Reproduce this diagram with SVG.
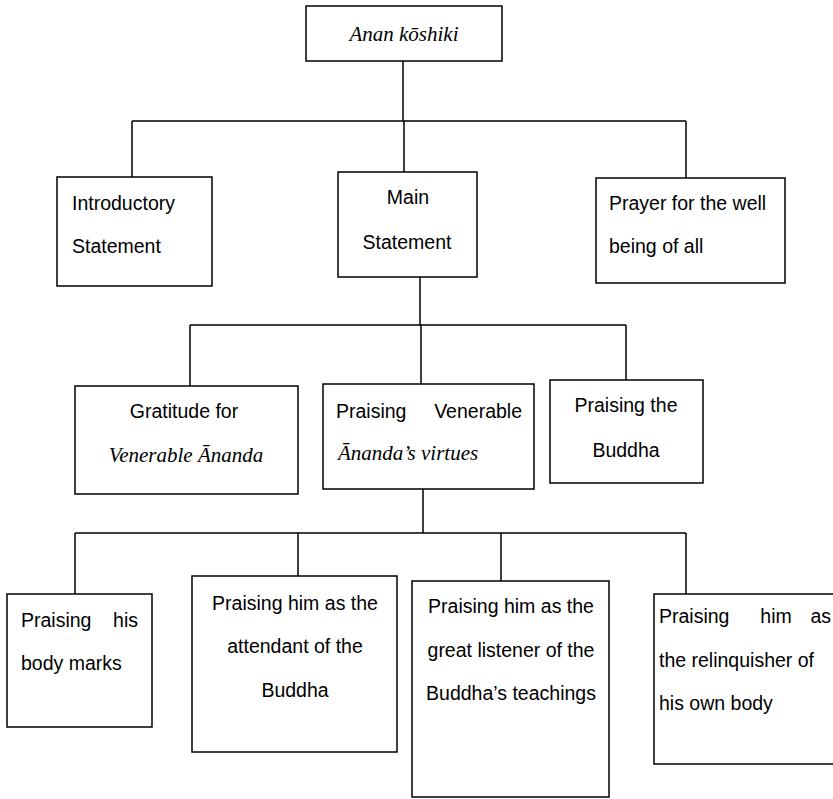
<svg xmlns="http://www.w3.org/2000/svg" width="833" height="799" viewBox="0 0 833 799">
<style>
.box{fill:#fff;stroke:#000;stroke-width:1.5}
.ln{fill:none;stroke:#000;stroke-width:1.5}
.t{font-family:"Liberation Sans",Arial,sans-serif;font-size:19.5px;fill:#000}
.i{font-family:"Liberation Serif","Times New Roman",serif;font-style:italic;font-size:21px;fill:#000}
.m{text-anchor:middle}
.e{text-anchor:end}
</style>
<rect width="833" height="799" fill="#fff"/>
<g id="connectors">
<path class="ln" d="M403 61V121M132 121H686M132 121V177M404 121V172M686 121V178"/>
<path class="ln" d="M420 277V325M190 325H626M190 325V386M421 325V384M626 325V380"/>
<path class="ln" d="M423 489V533M75 533H686M75 533V594M298 533V576M501 533V581M686 533V594"/>
</g>
<g id="root">
<rect class="box" x="306" y="6" width="196" height="55"/>
<text class="i m" x="404" y="41" font-size="22">Anan kōshiki</text>
</g>
<g id="intro">
<rect class="box" x="57" y="177" width="155" height="109"/>
<text class="t" x="72" y="210">Introductory</text>
<text class="t" x="72" y="253">Statement</text>
</g>
<g id="main">
<rect class="box" x="338" y="172" width="139" height="105"/>
<text class="t m" x="408" y="204">Main</text>
<text class="t m" x="407" y="249">Statement</text>
</g>
<g id="prayer">
<rect class="box" x="596" y="178" width="189" height="105"/>
<text class="t" x="609" y="210">Prayer for the well</text>
<text class="t" x="609" y="253">being of all</text>
</g>
<g id="gratitude">
<rect class="box" x="75" y="386" width="223" height="108"/>
<text class="t m" x="184" y="418">Gratitude for</text>
<text class="i m" x="186" y="462">Venerable Ānanda</text>
</g>
<g id="praising-venerable">
<rect class="box" x="323" y="384" width="211" height="105"/>
<text class="t" x="336" y="418">Praising</text>
<text class="t e" x="522" y="418">Venerable</text>
<text class="i" x="338" y="460">Ānanda’s virtues</text>
</g>
<g id="praising-buddha">
<rect class="box" x="550" y="380" width="153" height="103"/>
<text class="t m" x="626" y="412">Praising the</text>
<text class="t m" x="626" y="457">Buddha</text>
</g>
<g id="body-marks">
<rect class="box" x="7" y="594" width="145" height="133"/>
<text class="t" x="21" y="627">Praising</text>
<text class="t e" x="138" y="627">his</text>
<text class="t" x="21" y="670">body marks</text>
</g>
<g id="attendant">
<rect class="box" x="192" y="576" width="205" height="176"/>
<text class="t m" x="295" y="610">Praising him as the</text>
<text class="t m" x="295" y="653">attendant of the</text>
<text class="t m" x="295" y="697">Buddha</text>
</g>
<g id="listener">
<rect class="box" x="412" y="581" width="197" height="216"/>
<text class="t m" x="511" y="613">Praising him as the</text>
<text class="t m" x="511" y="657">great listener of the</text>
<text class="t m" x="511" y="700">Buddha’s teachings</text>
</g>
<g id="relinquisher">
<rect class="box" x="654" y="594" width="190" height="170"/>
<text class="t" x="659" y="623">Praising</text>
<text class="t m" x="776" y="623">him</text>
<text class="t e" x="831" y="623">as</text>
<text class="t" x="659" y="667">the relinquisher of</text>
<text class="t" x="659" y="710">his own body</text>
</g>
</svg>
